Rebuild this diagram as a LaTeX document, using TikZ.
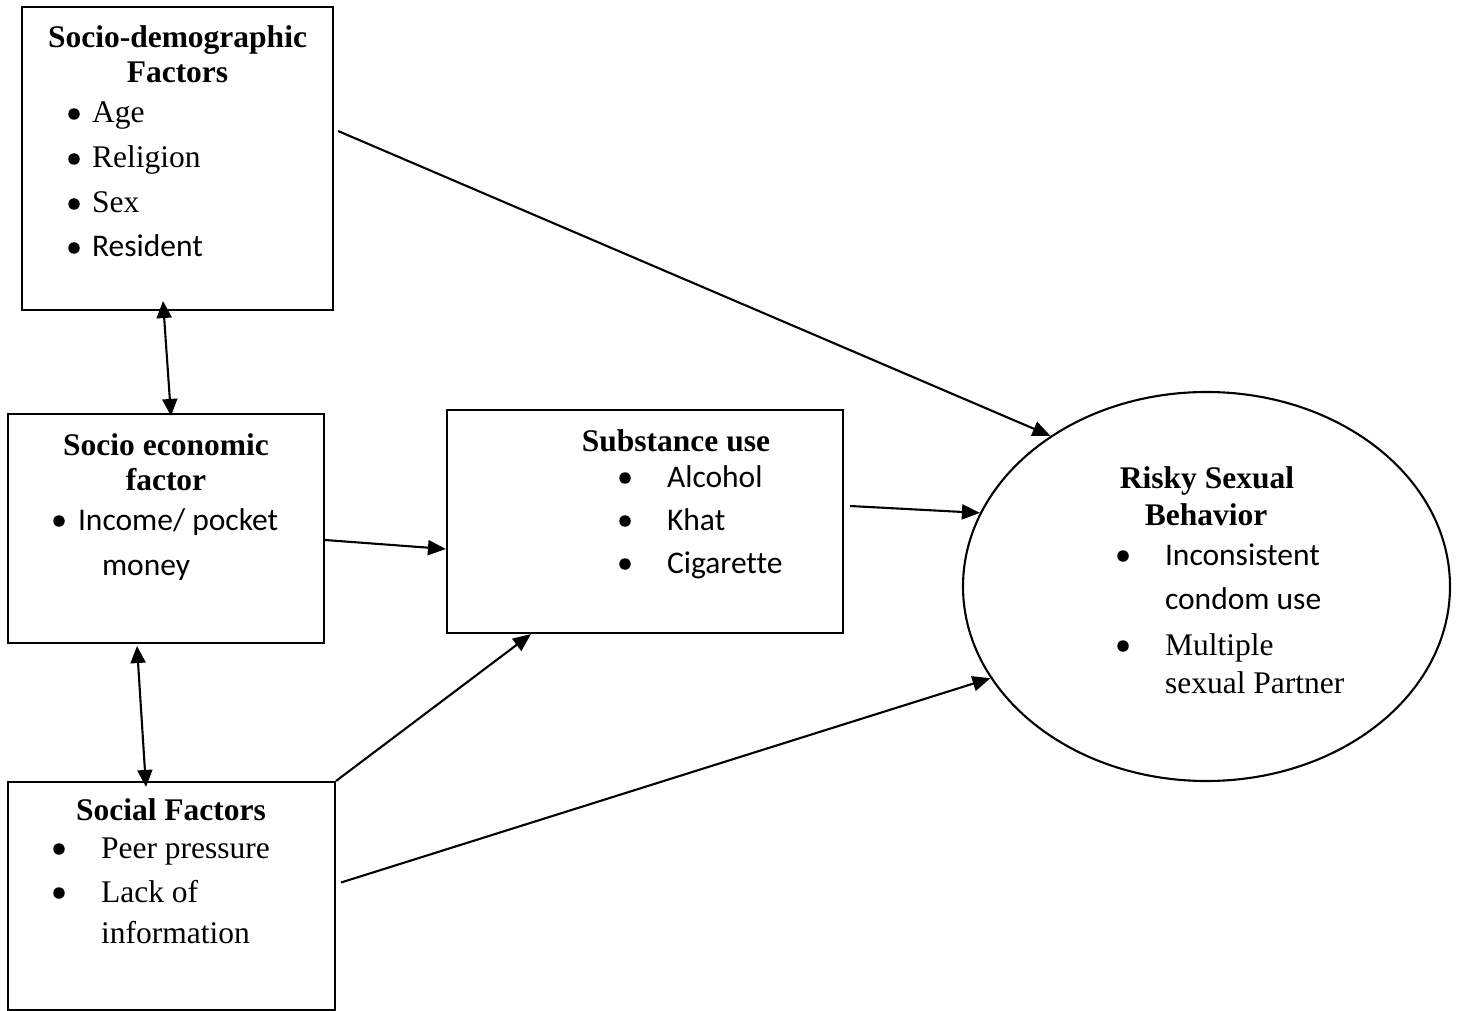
\documentclass[tikz,border=0pt]{standalone}
\usepackage{fontspec}
\setmainfont{Liberation Serif}
\newfontfamily\calibri[Ligatures=NoCommon]{Carlito}
\usetikzlibrary{shapes.geometric, arrows.meta, positioning}

\begin{document}
\begin{tikzpicture}[x=1pt, y=-1pt, line width=2.1pt,
  box/.style={draw, rectangle, inner sep=0pt},
  oval/.style={draw, ellipse, inner sep=0pt},
  head/.style={anchor=base, inner sep=0pt, font=\fontsize{31.5}{36}\selectfont\bfseries},
  item/.style={anchor=base west, inner sep=0pt, font=\fontsize{31.5}{36}\selectfont},
  bulletmark/.style={circle, fill, inner sep=0pt, minimum size=11.5pt, yshift=9pt},
  link/.style={-{Triangle[length=18pt,width=15pt]}},
  twoway/.style={{Triangle[length=17pt,width=15pt]}-{Triangle[length=17pt,width=15pt]}}]
\useasboundingbox (0,0) rectangle (1460,1011);

\node[box, minimum width=311pt, minimum height=303pt] (demo) at (177.5,158.5) {};
\node[box, minimum width=316pt, minimum height=229pt] (econ) at (166,528.5) {};
\node[box, minimum width=396pt, minimum height=223pt] (subst) at (645,521.5) {};
\node[box, minimum width=327pt, minimum height=228pt] (social) at (171.5,896) {};
\node[oval, minimum width=487pt, minimum height=389pt] (risky) at (1206.5,586.5) {};

% socio-demographic
\node[head] (demo-t1) at (177.5,48) {Socio-demographic};
\node[head] (demo-t2) at (177.5,83) {Factors};
\foreach \y/\txt in {123/Age, 168/Religion, 213/Sex, 257/{\calibri Resident}} {
  \node[bulletmark] (demo-b\y) at (74,\y) {};
  \node[item] (demo-i\y) at (91,\y) {\txt};
}

% socio economic
\node[head] (econ-t1) at (166,455) {Socio economic};
\node[head] (econ-t2) at (166,490) {factor};
\node[bulletmark] (econ-b) at (59,530) {};
\node[item] (econ-i1) at (77,530) {\calibri Income/ pocket};
\node[item] (econ-i2) at (101,575) {\calibri money};

% substance use
\node[head] (subst-t) at (676,451) {Substance use};
\foreach \y/\txt in {487/Alcohol, 530/Khat, 573/Cigarette} {
  \node[bulletmark] (subst-b\y) at (625,\y) {};
  \node[item] (subst-i\y) at (666,\y) {\calibri \txt};
}

% social factors
\node[head] (social-t) at (171,820) {Social Factors};
\foreach \y/\txt in {858/Peer pressure, 902/Lack of} {
  \node[bulletmark] (social-b\y) at (59,\y) {};
  \node[item] (social-i\y) at (100,\y) {\txt};
}
\node[item] (social-i3) at (100,943) {information};

% outcome
\node[head] (risky-t1) at (1207,488) {Risky Sexual};
\node[head] (risky-t2) at (1206,525) {Behavior};
\node[bulletmark] (risky-b1) at (1123,565) {};
\node[item] (risky-i1) at (1164,565) {\calibri Inconsistent};
\node[item] (risky-i2) at (1164,609) {\calibri condom use};
\node[bulletmark] (risky-b2) at (1123,655) {};
\node[item] (risky-i3) at (1164,655) {Multiple};
\node[item] (risky-i4) at (1164,693) {sexual Partner};

\draw[link] ([xshift=4pt,yshift=27.5pt]demo.east) -- (risky.136.3);
\draw[link] ([yshift=-11.5pt]econ.east) -- ([yshift=-27.5pt]subst.west);
\draw[link] ([xshift=6pt,yshift=15.5pt]subst.east) -- (risky.162.5);
\draw[link] (social.north east) -- ([xshift=-114pt]subst.south);
\draw[link] ([xshift=5pt,yshift=13.5pt]social.east) -- (risky.203.8);
\draw[twoway] ([xshift=-14.5pt,yshift=10pt]demo.south) -- ([xshift=5pt,yshift=-3pt]econ.north);
\draw[twoway] ([xshift=-29pt,yshift=-2pt]econ.south) -- ([xshift=-25.5pt,yshift=-6pt]social.north);
\end{tikzpicture}
\end{document}
